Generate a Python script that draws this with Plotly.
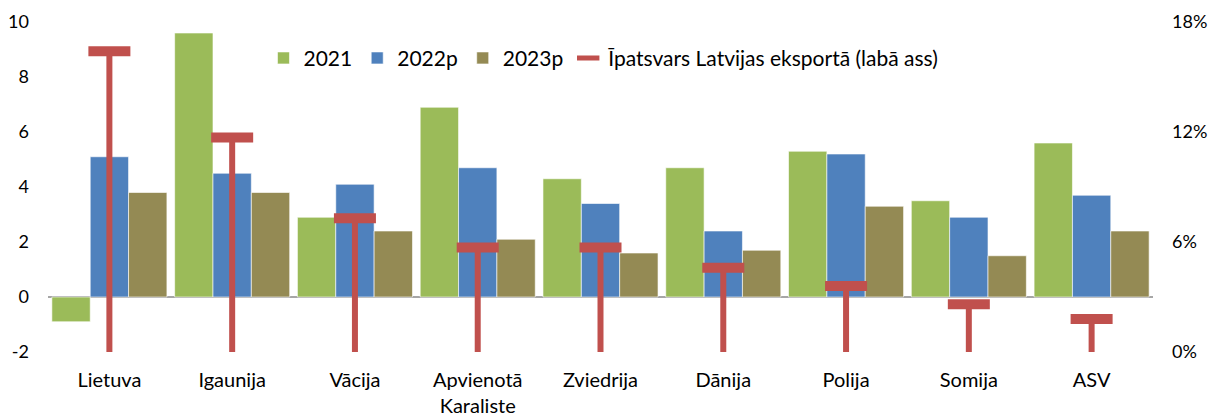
import plotly.graph_objects as go

# Kategorijas un vērtības
countries = ['Lietuva', 'Igaunija', 'Vācija', 'Apvienotā<br>Karaliste', 'Zviedrija',
             'Dānija', 'Polija', 'Somija', 'ASV']
y2021 = [-0.9, 9.6, 2.9, 6.9, 4.3, 4.7, 5.3, 3.5, 5.6]
y2022p = [5.1, 4.5, 4.1, 4.7, 3.4, 2.4, 5.2, 2.9, 3.7]
y2023p = [3.8, 3.8, 2.4, 2.1, 1.6, 1.7, 3.3, 1.5, 2.4]
share = [16.4, 11.7, 7.3, 5.7, 5.7, 4.6, 3.6, 2.6, 1.8]  # % of Latvian exports, right axis

left_ticks = [-2, 0, 2, 4, 6, 8, 10]
left_labels = ['-2', '0', '2', '4', '6', '8', '10']

font = 'Lato, Open Sans, sans-serif'

fig = go.Figure()

fig.add_trace(go.Bar(name='2021', x=countries, y=y2021, marker_color='#9BBB59',
                     marker_line=dict(color='white', width=0.6)))
fig.add_trace(go.Bar(name='2022p', x=countries, y=y2022p, marker_color='#4F81BD',
                     marker_line=dict(color='white', width=0.6)))
fig.add_trace(go.Bar(name='2023p', x=countries, y=y2023p, marker_color='#948A54',
                     marker_line=dict(color='white', width=0.6)))

# Red "T" markers: stem drawn as one-sided error bar down to 0 %
fig.add_trace(go.Scatter(
    name='Īpatsvars Latvijas eksportā (labā ass)',
    x=countries, y=share, yaxis='y2',
    mode='markers',
    marker=dict(symbol='line-ew', size=30, color='#C0504D',
                line=dict(color='#C0504D', width=10)),
    error_y=dict(type='data', symmetric=False, array=[0] * len(share),
                 arrayminus=share, width=0, thickness=6, color='#C0504D'),
))

fig.update_layout(
    width=1210, height=416,
    margin=dict(l=48, r=57, t=22, b=64),
    plot_bgcolor='white', paper_bgcolor='white',
    font=dict(family=font, size=20, color='#000000'),
    barmode='group', bargap=0.063, bargroupgap=0,
    showlegend=True,
    legend=dict(orientation='h', x=0.195, y=0.89, xanchor='left', yanchor='middle',
                font=dict(size=21), bgcolor='rgba(0,0,0,0)'),
    xaxis=dict(range=[-0.5, len(countries) - 0.5], showgrid=False, showline=False,
               ticks='', automargin=False, tickfont=dict(size=20), ticklabelstandoff=14),
    yaxis=dict(range=[-2, 10], tickvals=left_ticks, ticktext=left_labels,
               showgrid=False, showline=False, automargin=False,
               zeroline=True, zerolinecolor='#A6A6A6', zerolinewidth=1.5,
               tickfont=dict(size=18), ticklabelstandoff=18),
    yaxis2=dict(range=[0, 18], dtick=6, overlaying='y', side='right',
                showgrid=False, showline=False, zeroline=False, automargin=False,
                ticksuffix='%', tickfont=dict(size=18), ticklabelstandoff=18),
)

# remove the default page margin so the figure fills the window
fig.write_html('out.html', config={'displayModeBar': False},
               post_script="document.body.style.margin='0';")
